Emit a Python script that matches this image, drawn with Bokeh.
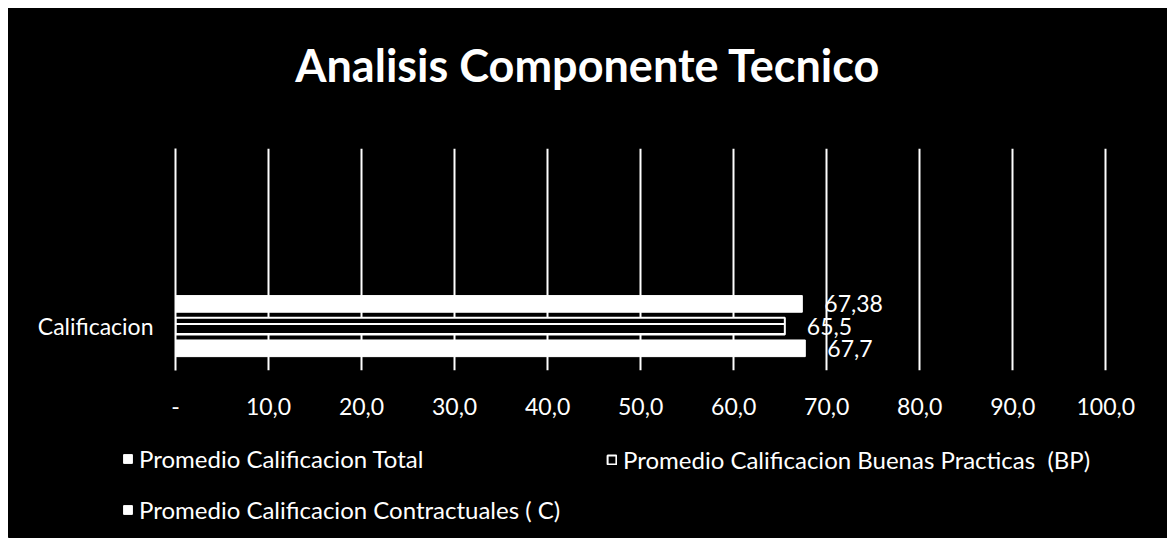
from bokeh.plotting import figure
from bokeh.layouts import column
from bokeh.models import Range1d, Legend, LegendItem, Title, FixedTicker, ColumnDataSource
from bokeh.core.properties import value
from bokeh.embed import file_html
from bokeh.resources import INLINE

# ---- data ----
title_text = "Analisis Componente Tecnico"
category = "Calificacion"
series_names = [
    "Promedio Calificacion Total",
    "Promedio Calificacion Buenas Practicas  (BP)",
    "Promedio Calificacion Contractuales ( C)",
]
series_values = [67.38, 65.5, 67.7]
x_ticks = [0, 10, 20, 30, 40, 50, 60, 70, 80, 90, 100]
x_tick_labels = ["-", "10,0", "20,0", "30,0", "40,0", "50,0", "60,0", "70,0", "80,0", "90,0", "100,0"]

FONT = "Lato"
WHITE = "white"
BLACK = "black"
BG = {"background-color": "black"}

# layout of the single category and dodged series
cat_pos = 0.2
spacing = 0.1
bar_h = 0.075
ys = [cat_pos + (1 - i) * spacing for i in range(len(series_values))]
labels = [("%g" % v).replace(".", ",") for v in series_values]

strip = dict(output_backend="svg", toolbar_location=None,
             x_axis_location=None, y_axis_location=None,
             background_fill_color=BLACK, border_fill_color=BLACK,
             min_border_left=0, min_border_right=0, min_border_top=0, min_border_bottom=0)

# ---- title strip ----
tf = figure(width=1159, height=140, x_range=Range1d(0, 1), y_range=Range1d(0, 1), **strip)
tf.outline_line_color = None
tf.grid.visible = False
tf.title = Title(text=title_text, align="center", text_color=WHITE, text_font=FONT,
                 text_font_size="45px", text_font_style="bold", standoff=55)
tf.frame_align = False
tf.styles = BG

# ---- main chart ----
p = figure(width=1159, height=280, output_backend="svg", toolbar_location=None,
           x_range=Range1d(0, 100.4), y_range=Range1d(0, 1),
           background_fill_color=BLACK, border_fill_color=BLACK,
           min_border_left=167, min_border_right=58, min_border_top=0, min_border_bottom=58)
p.outline_line_color = None
p.frame_align = False
p.styles = BG

p.ygrid.grid_line_color = None
p.xgrid.grid_line_color = WHITE
p.xgrid.grid_line_width = 2
p.xgrid.ticker = FixedTicker(ticks=x_ticks)

p.xaxis.ticker = FixedTicker(ticks=x_ticks)
p.xaxis.major_label_overrides = {t_: l for t_, l in zip(x_ticks, x_tick_labels)}
p.xaxis.axis_line_color = None
p.xaxis.major_tick_line_color = None
p.xaxis.minor_tick_line_color = None
p.xaxis.major_label_text_color = WHITE
p.xaxis.major_label_text_font = FONT
p.xaxis.major_label_text_font_size = "23px"
p.xaxis.major_label_standoff = 21

p.yaxis.ticker = FixedTicker(ticks=[cat_pos])
p.yaxis.major_label_overrides = {cat_pos: category}
p.yaxis.axis_line_color = WHITE
p.yaxis.axis_line_width = 2
p.yaxis.major_tick_line_color = None
p.yaxis.minor_tick_line_color = None
p.yaxis.major_label_text_color = WHITE
p.yaxis.major_label_text_font = FONT
p.yaxis.major_label_text_font_size = "23px"
p.yaxis.major_label_standoff = 16

styles = [
    dict(fill_color=WHITE, line_color=WHITE),
    dict(fill_color=BLACK, line_color=WHITE, line_width=2),
    dict(fill_color=WHITE, line_color=WHITE),
]
bp_hatch = dict(hatch_pattern="-", hatch_color=WHITE, hatch_scale=10, hatch_weight=2)

sources = []
for i, (name, v, y, lab, st) in enumerate(zip(series_names, series_values, ys, labels, styles)):
    src = ColumnDataSource(dict(y=[y], right=[v], lab=[lab]))
    sources.append(src)
    extra = bp_hatch if i == 1 else {}
    p.hbar(y="y", right="right", left=0, height=bar_h, source=src, **st, **extra)
    p.text(x="right", y="y", text="lab", source=src, x_offset=22, text_color=WHITE,
           text_font=value(FONT), text_font_size="23px", text_baseline="middle", text_align="left")

# ---- legend strip (same series/styles; its bars lie entirely outside its view) ----
q = figure(width=1159, height=110, x_range=Range1d(200, 300), y_range=Range1d(10, 11), **strip)
q.outline_line_color = None
q.grid.visible = False
q.frame_align = False
q.styles = BG
leg_renderers = [q.hbar(y="y", right="right", left=0, height=bar_h, source=src, **st)
                 for src, st in zip(sources, styles)]

common = dict(background_fill_alpha=0, border_line_color=None, label_text_color=WHITE,
              label_text_font=FONT, label_text_font_size="24px", glyph_width=11, glyph_height=11,
              label_standoff=6, padding=0, margin=0, label_height=28)

leg_a = Legend(items=[LegendItem(label=series_names[0], renderers=[leg_renderers[0]]),
                      LegendItem(label=series_names[2], renderers=[leg_renderers[2]])],
               location=(114, 14), spacing=22, **common)
leg_b = Legend(items=[LegendItem(label=series_names[1], renderers=[leg_renderers[1]])],
               location=(598, 64), **common)
q.add_layout(leg_a, "center")
q.add_layout(leg_b, "center")

layout = column(tf, p, q, spacing=0)
layout.margin = (8, 0, 0, 8)

open("out.html", "w").write(file_html(layout, INLINE))
